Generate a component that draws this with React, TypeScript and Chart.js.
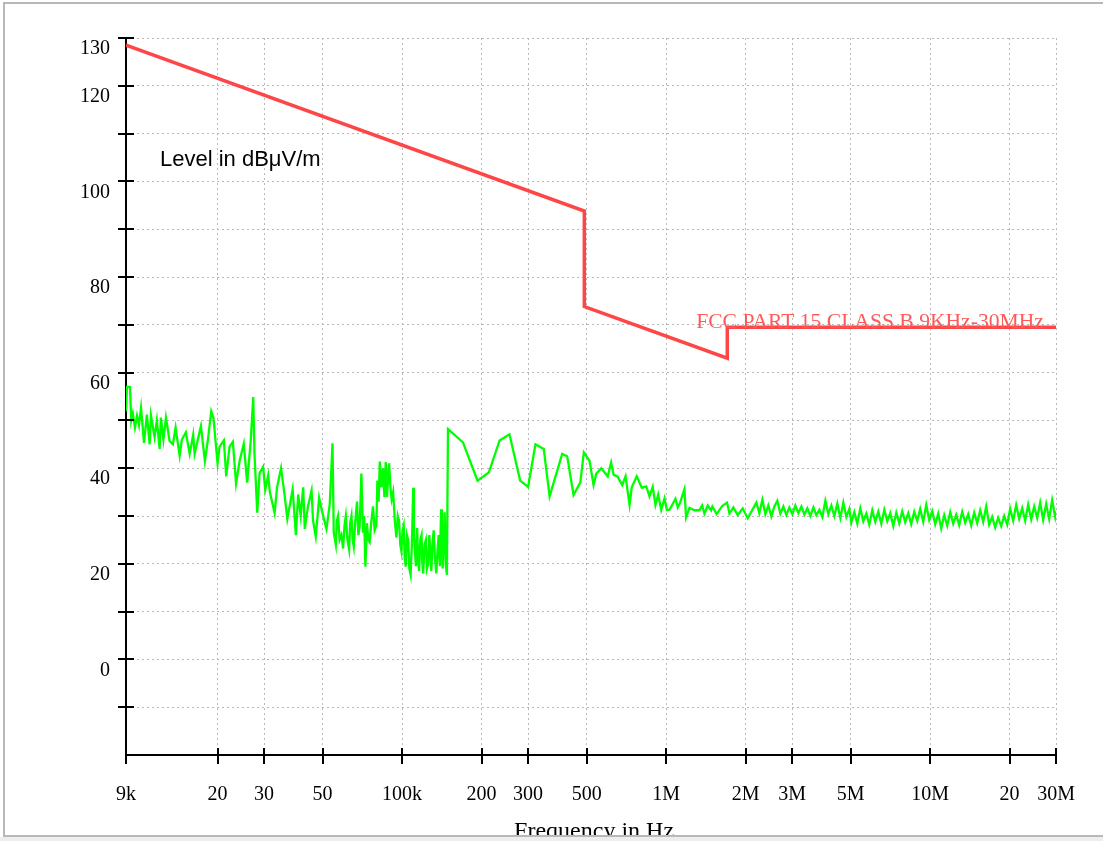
import React, { useEffect, useRef } from "react";
import { Chart, registerables } from "chart.js";

Chart.register(...registerables);

// ---- axes ----
const xTickValues = [9e3, 2e4, 3e4, 5e4, 1e5, 2e5, 3e5, 5e5, 1e6, 2e6, 3e6, 5e6, 1e7, 2e7, 3e7];
const xTickLabels = ["9k", "20", "30", "50", "100k", "200", "300", "500", "1M", "2M", "3M", "5M", "10M", "20", "30M"];
const yMin = -20;
const yMax = 130;
const yLabelledTicks = [0, 20, 40, 60, 80, 100, 120, 130];

// ---- limit line (FCC Part 15 Class B, 9 kHz - 30 MHz) ----
const limitFreqKHz = [9, 490, 490, 1705, 1705, 30000];
const limitLevel = [128.5, 93.8, 73.8, 63.0, 69.5, 69.5];
const limitLabel = "FCC PART 15 CLASS B 9KHz-30MHz";
const limitLabelFreqHz = 1.3e6;

// ---- measured emission (green) ----
const lowBandKHz = [9.0, 9.08, 9.32, 9.42, 9.55, 9.73, 9.91, 10.08, 10.26, 10.53, 10.8, 11.06, 11.19, 11.55, 11.78, 12.07, 12.2, 12.47, 12.75, 13.16, 13.55, 13.87, 14.37, 14.65, 15.17, 15.68, 16.17, 16.37, 16.84, 17.3, 17.91, 18.39, 18.93, 19.3, 20.0, 20.36, 21.13, 21.57, 22.2, 22.86, 23.5, 24.24, 25.14, 25.89, 26.7, 27.3, 27.6, 28.27, 28.86, 29.75, 30.3, 31.1, 31.56, 32.9, 33.6, 34.8, 35.9, 36.75, 38.5, 39.6, 40.4, 41.3, 42.2, 42.8, 44.0, 45.4, 46.0, 47.1, 48.5, 49.5, 50.5, 51.7, 53.2, 54.5];
const lowBandDb = [51.9, 57, 57, 50, 51.5, 48.5, 51, 49, 52.6, 45.3, 51.2, 45, 51, 46.5, 50, 44, 50.6, 46, 50.6, 45.7, 45, 48.5, 42.6, 46, 47.5, 43, 47, 43, 46, 48.8, 41.5, 46, 51.9, 50.5, 41, 44.5, 45.8, 38.3, 44.5, 45.5, 36.8, 41.5, 45.1, 37, 45.6, 54.9, 43, 30.7, 39, 40.3, 35.5, 38.5, 35, 30.6, 36, 40, 34.3, 29.4, 35.6, 26, 34.5, 30, 36, 27.3, 32, 35.3, 29, 25.7, 33.8, 31.5, 29.5, 27.3, 32.5, 45.2];

const bumpBandKHz = [55.1, 56.1, 56.6, 57.2, 58, 58.9, 59.8, 60.5, 61.2, 62.1, 63.0, 63.6, 64.3, 65, 65.6, 66.5, 67.5, 68.3, 69.1, 70.1, 71.1, 71.8, 72.6, 73.6, 74.5, 75.4, 76.5, 77.6, 78.7, 79.9, 80.6, 81.5, 82.3, 83.5, 84.7, 85.7, 86.7, 87.7, 88.5, 89.3, 90.3, 91.3, 92.5, 93.8, 95.2, 96.3];
const bumpBandDb = [26.5, 24, 29, 30, 25, 26, 23.2, 28, 30, 25, 23, 28.5, 30, 25, 23.6, 29, 33, 26, 28, 38.9, 26.5, 30, 19.4, 28.5, 25, 24.5, 29, 32, 27, 28, 37.4, 33, 41.4, 36, 40, 34, 41.3, 34, 38, 41, 36, 33.5, 35, 29, 25.5, 30];

const dipBandKHz = [97.4, 98.4, 99.4, 100.4, 101.4, 102.3, 103.2, 104.3, 105.4, 106.5, 107.7, 108.9, 110.2, 110.9, 111.6, 112.8, 114, 115, 116, 117.2, 118.5, 119.3, 120.2, 121.6, 123, 124.2, 125.5, 126.8, 128, 129, 130.3, 131.7, 133.2, 134.8, 136.2, 137.6, 139, 140.5, 141.5, 142.5, 143.7, 144.9, 146.3, 147.8];
const dipBandDb = [29, 24, 22.6, 27, 28, 21, 19.4, 26, 25, 19, 17.7, 24, 35.9, 27, 23.5, 19.5, 27.5, 21, 18.5, 25, 26, 20, 18, 24, 25, 19, 20, 26, 22, 18.5, 24, 27, 21, 18, 23, 26, 19.5, 31.4, 24, 19, 25, 30.8, 20, 17.7];

const midBandKHz = [149.2, 170, 193, 213, 234, 255, 280, 300, 320, 344, 362, 404, 422, 446, 473, 488, 513, 531, 544, 568, 601, 619, 633, 654, 682, 702, 727, 741, 774, 809, 841, 865, 890, 911, 933, 958, 986, 1006, 1030, 1085, 1107, 1130, 1173, 1190, 1226, 1281, 1337, 1369, 1397, 1437, 1480, 1497, 1554, 1630, 1702, 1737, 1798, 1867, 1950, 2037];
const midBandDb = [48.2, 45.4, 37.4, 39.1, 45.8, 47.1, 37.4, 36.1, 45, 44, 34.1, 43, 42.5, 34.4, 37, 43.3, 41.5, 36.5, 38.9, 40, 38.3, 41.2, 38.6, 38.3, 36.5, 38.3, 32.3, 36, 38.3, 35.9, 36.2, 34.1, 36.1, 32.3, 34.5, 31.3, 33.7, 31.3, 31.3, 33.6, 31.8, 32.8, 35.6, 29.7, 31.7, 31.2, 31.2, 32.2, 30.5, 32.2, 31.2, 32, 30.4, 32.1, 32.8, 30.5, 31.8, 30.2, 31.6, 29.5];

const highBandKHz = [2197, 2255, 2315, 2376, 2439, 2504, 2570, 2638, 2708, 2780, 2854, 2929, 3007, 3087, 3169, 3253, 3339, 3427, 3518, 3612, 3707, 3805, 3906, 4010, 4116, 4225, 4337, 4452, 4570, 4691, 4815, 4943, 5028, 5161, 5298, 5438, 5582, 5730, 5882, 6038, 6198, 6362, 6531, 6704, 6882, 7064, 7251, 7443, 7640, 7840, 8048, 8261, 8480, 8705, 8935, 9172, 9415, 9664, 9920, 10183, 10453, 10730, 11014, 11306, 11605, 11913, 12228, 12552, 12885, 13226, 13577, 13937, 14306, 14685, 15074, 15473, 15883, 16304, 16736, 17179, 17635, 18102, 18581, 19073, 19579, 20098, 20630, 21177, 21738, 22314, 22905, 23512, 24135, 24775, 25431, 26105, 26797, 27507, 28236, 28984, 29752, 30000];
const highBandDb = [32.8, 30.6, 33.4, 30.4, 32.2, 29.9, 32.0, 33.2, 30.5, 32.0, 30.2, 31.8, 30.4, 32.2, 30.6, 32.0, 30.3, 31.6, 30.0, 31.8, 30.2, 31.3, 29.8, 33.2, 30.4, 32.2, 30.0, 32.6, 29.6, 32.8, 29.8, 31.5, 28.6, 30.8, 28.4, 31.6, 28.9, 30.5, 28.2, 31.2, 28.8, 30.9, 28.4, 31.3, 28.9, 30.6, 27.9, 30.7, 28.5, 31.0, 28.7, 30.6, 28.3, 30.9, 29.0, 31.5, 28.8, 32.3, 29.2, 31.0, 28.3, 30.5, 27.4, 30.2, 28.0, 30.8, 28.4, 30.3, 28.1, 30.9, 28.6, 30.4, 28.0, 30.7, 28.5, 31.2, 28.8, 32.0, 28.2, 29.8, 27.6, 29.6, 27.9, 30.0, 28.2, 31.5, 29.0, 32.3, 29.4, 31.6, 29.0, 32.4, 29.3, 32.0, 29.6, 32.8, 29.2, 32.5, 29.4, 33.3, 29.8, 31.0];

const SERIF = '"Liberation Serif", "Times New Roman", serif';
const SANS = '"Liberation Sans", Arial, sans-serif';

export default function App() {
  const ref = useRef<HTMLCanvasElement>(null);

  useEffect(() => {
    const canvas = ref.current;
    if (!canvas) return;
    const toPoints = (f: number[], v: number[]) => f.map((k, i) => ({ x: k * 1000, y: v[i] }));
    const emission = [
      ...toPoints(lowBandKHz, lowBandDb),
      ...toPoints(bumpBandKHz, bumpBandDb),
      ...toPoints(dipBandKHz, dipBandDb),
      ...toPoints(midBandKHz, midBandDb),
      ...toPoints(highBandKHz, highBandDb),
    ];
    const limit = toPoints(limitFreqKHz, limitLevel);

    const decor = {
      id: "decor",
      afterDatasetsDraw(chart: any) {
        const { ctx, chartArea, scales } = chart;
        const xs = scales.x;
        const ys = scales.y;
        ctx.save();
        ctx.strokeStyle = "#000";
        ctx.lineWidth = 2;
        ctx.beginPath();
        xs.ticks.forEach((t: any) => {
          const px = Math.round(xs.getPixelForValue(t.value));
          ctx.moveTo(px, chartArea.bottom - 7);
          ctx.lineTo(px, chartArea.bottom + 9);
        });
        ys.ticks.forEach((t: any) => {
          if (t.value === yMin) return;
          const py = Math.round(ys.getPixelForValue(t.value));
          ctx.moveTo(chartArea.left - 8, py);
          ctx.lineTo(chartArea.left + 8, py);
        });
        ctx.stroke();

        ctx.fillStyle = "#000";
        ctx.font = `22px ${SANS}`;
        ctx.textAlign = "left";
        ctx.textBaseline = "alphabetic";
        ctx.fillText("Level in dBμV/m", chartArea.left + 34, chartArea.top + 128);

        ctx.fillStyle = "#ff5a5a";
        ctx.font = `21.6px ${SERIF}`;
        ctx.fillText(limitLabel, xs.getPixelForValue(limitLabelFreqHz), ys.getPixelForValue(69.5) + 1);

        ctx.fillStyle = "#000";
        ctx.font = `24px ${SERIF}`;
        ctx.textAlign = "center";
        ctx.fillText("Frequency in Hz", (chartArea.left + chartArea.right) / 2 + 3, chartArea.bottom + 83);
        ctx.restore();
      },
    };

    const gridOpts = { color: "#b8b8b8", lineWidth: 1, drawTicks: false };
    const borderOpts = { display: true, color: "#000", width: 2, dash: [2, 3] };
    const tickFont = { family: SERIF, size: 20 };

    const chart = new Chart(canvas, {
      type: "line",
      data: {
        datasets: [
          {
            label: "Emission",
            data: emission,
            borderColor: "#00ff00",
            borderWidth: 2.3,
            pointRadius: 0,
            tension: 0,
            fill: false,
          },
          {
            label: limitLabel,
            data: limit,
            borderColor: "#ff4646",
            borderWidth: 3.5,
            pointRadius: 0,
            tension: 0,
            fill: false,
          },
        ],
      },
      options: {
        animation: false,
        responsive: false,
        maintainAspectRatio: false,
        layout: { padding: { left: 0, top: 38, right: 46, bottom: 0 } },
        plugins: { legend: { display: false }, tooltip: { enabled: false } },
        scales: {
          x: {
            type: "logarithmic",
            min: xTickValues[0],
            max: xTickValues[xTickValues.length - 1],
            afterBuildTicks: (s: any) => {
              s.ticks = xTickValues.map((v) => ({ value: v }));
            },
            afterFit: (s: any) => {
              s.height = 86;
            },
            ticks: {
              autoSkip: false,
              maxRotation: 0,
              padding: 28,
              color: "#000",
              font: tickFont,
              callback: (_v: any, i: number) => xTickLabels[i],
            },
            grid: gridOpts,
            border: borderOpts,
          },
          y: {
            type: "linear",
            min: yMin,
            max: yMax,
            afterFit: (s: any) => {
              s.width = 126;
            },
            ticks: {
              stepSize: 10,
              padding: 16,
              labelOffset: 11,
              color: "#000",
              font: tickFont,
              callback: (v: any) => (yLabelledTicks.includes(Number(v)) ? String(v) : ""),
            },
            grid: gridOpts,
            border: borderOpts,
          },
        },
      } as any,
      plugins: [decor],
    });
    return () => chart.destroy();
  }, []);

  return (
    <div
      style={{
        position: "fixed",
        left: 0,
        top: 0,
        width: 1103,
        height: 841,
        overflow: "hidden",
        background: "#fff",
      }}
    >
      <canvas ref={ref} width={1103} height={841} style={{ position: "absolute", left: 0, top: 0 }} />
      <div
        style={{
          position: "absolute",
          left: 3,
          top: 2,
          width: 1130,
          height: 835,
          border: "2px solid #b8b8b8",
          boxSizing: "border-box",
          pointerEvents: "none",
        }}
      />
      <div
        style={{
          position: "absolute",
          left: 0,
          top: 837,
          width: 1103,
          height: 4,
          background: "#eeeeee",
        }}
      />
    </div>
  );
}
